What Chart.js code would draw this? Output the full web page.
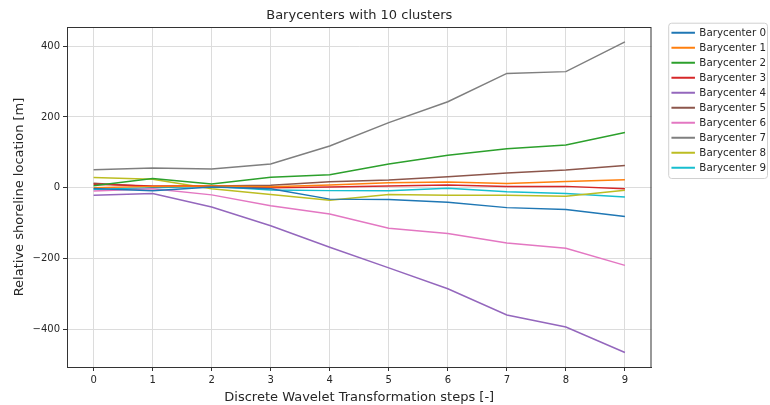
<!DOCTYPE html>
<html>
<head>
<meta charset="utf-8">
<script src="https://cdn.jsdelivr.net/npm/chart.js@4/dist/chart.umd.min.js"></script>
<style>
  html, body { margin: 0; padding: 0; background: #fff; }
</style>
</head>
<body>
<canvas id="myChart" width="770" height="405"></canvas>
<script>
const steps = [0, 1, 2, 3, 4, 5, 6, 7, 8, 9]
const yTicks = [-400, -200, 0, 200, 400]
const seriesNames = ['Barycenter 0', 'Barycenter 1', 'Barycenter 2', 'Barycenter 3', 'Barycenter 4',
                     'Barycenter 5', 'Barycenter 6', 'Barycenter 7', 'Barycenter 8', 'Barycenter 9']

const bary0 = [-2, -8, 2, -3, -32, -33, -41, -56, -61, -81]
const bary1 = [0, 4, 5, 3, 8, 14, 16, 12, 18, 23]
const bary2 = [6, 26, 11, 30, 37, 67, 92, 110, 121, 156]
const bary3 = [10, 5, 5, 0, 2, 5, 8, 4, 4, -3]
const bary4 = [-21, -16, -54, -107, -168, -226, -285, -359, -393, -465]
const bary5 = [13, 3, 5, 7, 17, 22, 31, 42, 50, 63]
const bary6 = [-9, -3, -20, -51, -74, -114, -129, -156, -171, -219]
const bary7 = [51, 56, 53, 67, 118, 184, 243, 323, 328, 412]
const bary8 = [29, 24, -3, -19, -35, -19, -21, -21, -24, -7]
const bary9 = [-5, 0, 4, -6, -8, -8, -1, -11, -16, -26]

const allSeries = [bary0, bary1, bary2, bary3, bary4, bary5, bary6, bary7, bary8, bary9]
let lineColors = ['#1f77b4', '#ff7f0e', '#2ca02c', '#d62728', '#9467bd', '#8c564b', '#e377c2', '#7f7f7f', '#bcbd22', '#17becf']

Chart.defaults.font.family = '"DejaVu Sans", sans-serif'
Chart.defaults.color = '#262626'

// matplotlib look: box round the plot, title over the plot area, framed legend
const framePlugin = {
  id: 'frame',
  afterLayout(chart) {
    // push the legend right and up, like bbox_to_anchor in matplotlib
    chart.legend.left += 16
    chart.legend.right += 16
    chart.legend.top -= 4
  },
  afterDraw(chart) {
    const c = chart.ctx
    const a = chart.chartArea
    c.save()
    c.strokeStyle = '#333'
    c.lineWidth = 1
    c.strokeRect(a.left + 0.5, a.top + 0.5, a.right - a.left - 1, a.bottom - a.top)
    c.fillStyle = '#262626'
    c.font = '13px "DejaVu Sans", sans-serif'
    c.textAlign = 'center'
    c.textBaseline = 'bottom'
    c.fillText('Barycenters with 10 clusters', (a.left + a.right) / 2, a.top - 5)
    const boxes = chart.legend.legendHitBoxes
    if (boxes && boxes.length) {
      const top = Math.min(...boxes.map(b => b.top)) - 5
      const bottom = Math.max(...boxes.map(b => b.top + b.height)) + 5
      const left = Math.min(...boxes.map(b => b.left)) - 4
      c.strokeStyle = '#d0d0d0'
      c.beginPath()
      c.roundRect(left + 0.5, top + 0.5, 767 - left, bottom - top, 3)
      c.stroke()
    }
    c.restore()
  }
}

const ctx = document.getElementById('myChart')

new Chart(ctx, {
  type: 'line',
  data: {
    datasets: allSeries.map((vals, i) => ({
      label: seriesNames[i],
      data: vals.map((v, j) => ({ x: steps[j], y: v })),
      borderColor: lineColors[i],
      backgroundColor: lineColors[i],
      borderWidth: 1.5,
      pointRadius: 0,
      tension: 0
    }))
  },
  options: {
    responsive: false,
    animation: false,
    layout: { padding: { top: 27, right: 10, left: 0, bottom: 0 } },
    plugins: {
      title: { display: false },
      tooltip: { enabled: false },
      legend: {
        position: 'right',
        align: 'start',
        labels: {
          boxWidth: 22,
          boxHeight: 0.5,
          padding: 4.7,
          font: { size: 10.3 },
          color: '#262626'
        }
      }
    },
    scales: {
      x: {
        type: 'linear',
        min: -0.45,
        max: 9.45,
        afterBuildTicks: axis => { axis.ticks = steps.map(v => ({ value: v })) },
        afterFit: scale => { scale.height = 38 },
        ticks: { font: { size: 10 }, padding: 3, maxRotation: 0 },
        grid: { color: '#dcdcdc', tickColor: '#333', tickLength: 4 },
        border: { color: '#333' },
        title: {
          display: true,
          text: 'Discrete Wavelet Transformation steps [-]',
          font: { size: 13 },
          padding: { top: 1, bottom: 0 }
        }
      },
      y: {
        min: -506,
        max: 454,
        afterBuildTicks: axis => { axis.ticks = yTicks.map(v => ({ value: v })) },
        afterFit: scale => { scale.width = 67 },
        ticks: {
          font: { size: 10 },
          padding: 3,
          callback: v => String(v).replace('-', '\u2212')
        },
        grid: { color: '#dcdcdc', tickColor: '#333', tickLength: 4 },
        border: { color: '#333' },
        title: {
          display: true,
          text: 'Relative shoreline location [m]',
          font: { size: 13 },
          padding: { top: 12, bottom: 0 }
        }
      }
    }
  },
  plugins: [framePlugin]
})
</script>
</body>
</html>
